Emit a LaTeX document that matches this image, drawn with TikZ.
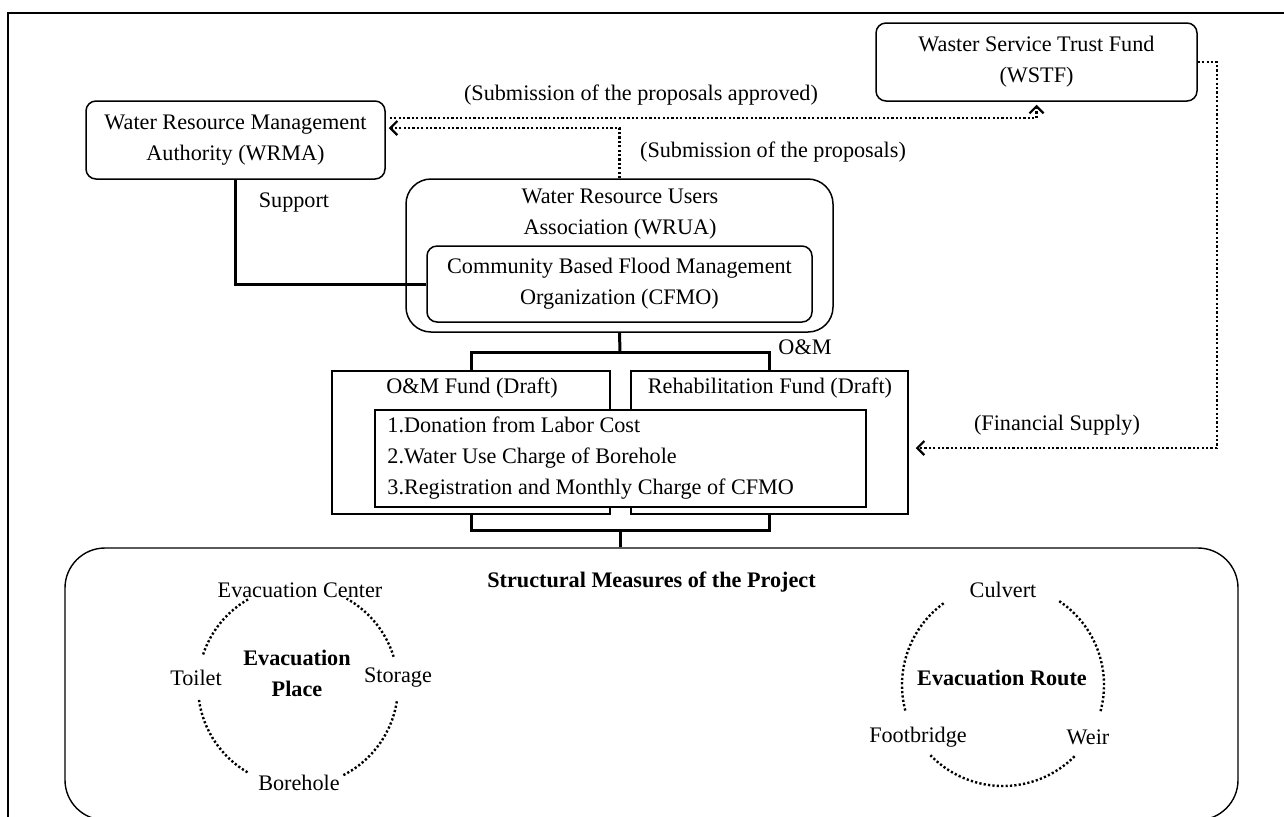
\documentclass[tikz,border=0pt]{standalone}
\usepackage{fontspec}
\setmainfont{Liberation Serif}
\usetikzlibrary{arrows.meta}
\newcommand{\figfont}{\fontsize{11.1pt}{15.5pt}\selectfont}

\begin{document}
\begin{tikzpicture}[x=0.5pt, y=-0.5pt, font=\figfont,
    rbox/.style={draw, line width=0.75pt, rounded corners=5pt, align=center, inner sep=0pt},
    sbox/.style={draw, line width=0.75pt, inner sep=0pt},
    txt/.style={inner sep=0pt, align=center},
    boldtxt/.style={inner sep=0pt, align=center, font=\figfont\bfseries},
    link/.style={line width=1.5pt},
    dotline/.style={line width=1.2pt, dash pattern=on 1.1pt off 1.1pt},
    barbtip/.style={-{Straight Barb[length=3.5pt, width=7pt, line width=1.1pt]}}]

    \useasboundingbox (0,0) rectangle (1284,816);
    \draw[line width=1pt] (8,13) rectangle (1300,830);

    % organisations
    \node[rbox, minimum width=160.5pt, minimum height=39pt] (wstf) at (1036.5,62) {Waster Service Trust Fund\\(WSTF)};
    \node[rbox, minimum width=149.5pt, minimum height=39pt] (wrma) at (235.5,140) {Water Resource Management\\Authority (WRMA)};
    \node[rbox, rounded corners=12.5pt, minimum width=213.5pt, minimum height=76.5pt] (wrua) at (619.5,255.5) {};
    \node[txt] (wruatxt) at (620,214) {Water Resource Users\\Association (WRUA)};
    \node[rbox, minimum width=192.5pt, minimum height=38pt] (cfmo) at (619.5,284) {Community Based Flood Management\\Organization (CFMO)};

    % funds
    \node[sbox, minimum width=139pt, minimum height=71.5pt] (omfund) at (471,442.5) {};
    \node[sbox, minimum width=138.5pt, minimum height=71.5pt] (rehab) at (769.5,442.5) {};
    \node[txt] (omtxt) at (472,388) {O\&M Fund (Draft)};
    \node[txt] (rehabtxt) at (770,388) {Rehabilitation Fund (Draft)};
    \node[sbox, fill=white, minimum width=245.5pt, minimum height=48.5pt] (sources) at (620.5,458.5) {};
    \node[txt, align=left, anchor=west] (sourcestxt) at (387,458) {1.Donation from Labor Cost\\2.Water Use Charge of Borehole\\3.Registration and Monthly Charge of CFMO};

    % structural measures
    \node[draw, line width=0.7pt, rounded corners=20pt, inner sep=0pt, minimum width=586.5pt, minimum height=136pt] (struct) at (651.5,684) {};
    \node[boldtxt] (structtxt) at (651.5,582) {Structural Measures of the Project};

    % solid links
    \draw[link] (wrma.south) |- (cfmo.west);
    \node[txt] (support) at (294,203) {Support};
    \coordinate (topsplit) at (620,352);
    \draw[link] (wrua.south) -- (topsplit);
    \draw[link] (omfund.north) |- (topsplit) -| (rehab.north);
    \node[txt] (omlabel) at (805,347) {O\&M};
    \coordinate (botsplit) at (620,530);
    \draw[link] (omfund.south) |- (botsplit) -| (rehab.south);
    \draw[link] (botsplit) -- (botsplit |- struct.north);

    % dotted flows
    \draw[dotline, barbtip, shorten >=1.5pt] (wrua.north) |- ([yshift=6pt]wrma.east);
    \draw[dotline, barbtip, shorten >=1.5pt] ([yshift=11pt, xshift=2pt]wrma.east) -| (wstf.south);
    \draw[dotline, barbtip, shorten >=3.5pt] (wstf.east) -- ++(19,0) |- ([yshift=-2.75pt]rehab.east);
    \node[txt] (approvedlbl) at (641,95) {(Submission of the proposals approved)};
    \node[txt] (proposallbl) at (773,152) {(Submission of the proposals)};
    \node[txt] (financelbl) at (1057,425) {(Financial Supply)};

    % evacuation place
    \coordinate (placec) at (298,686);
    \foreach \a/\b in {120/162, 17/61, -63/-8, -172/-120}
        \draw[dotline] (placec) ++(\a:50pt) arc[start angle=\a, end angle=\b, radius=50pt];
    \node[txt] (evaccenter) at (300,590) {Evacuation Center};
    \node[txt] (toilet) at (196,678) {Toilet};
    \node[txt] (storage) at (398,678) {Storage};
    \node[txt] (borehole) at (299,783) {Borehole};
    \node[boldtxt] (placetxt) at (297,673.5) {Evacuation\\Place};

    % evacuation route
    \coordinate (routec) at (1003,685);
    \foreach \a/\b in {126/195, -15/57, -136/-44}
        \draw[dotline] (routec) ++(\a:50.5pt) arc[start angle=\a, end angle=\b, radius=50.5pt];
    \node[txt] (culvert) at (1003,590) {Culvert};
    \node[txt] (footbridge) at (918,737) {Footbridge};
    \node[txt] (weir) at (1088,737) {Weir};
    \node[boldtxt] (routetxt) at (1002,678) {Evacuation Route};
\end{tikzpicture}
\end{document}
